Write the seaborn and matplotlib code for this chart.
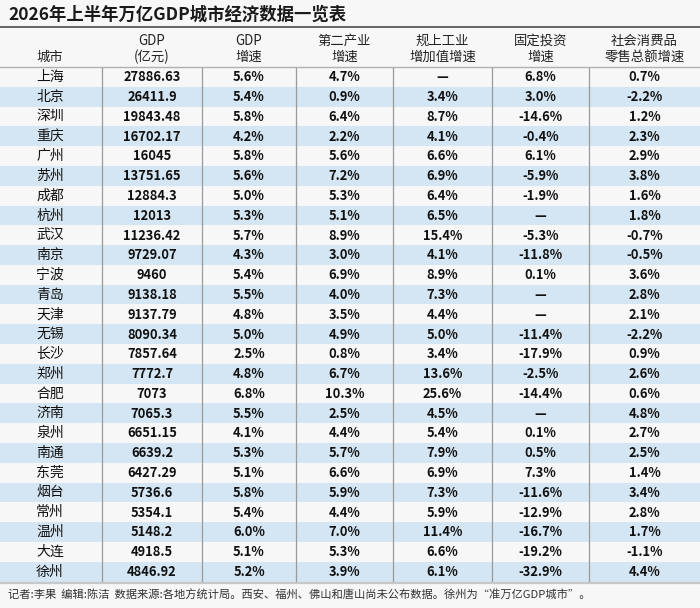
import matplotlib
matplotlib.use("Agg")
import matplotlib.pyplot as plt
from matplotlib.colors import ListedColormap
import numpy as np
import pandas as pd
import seaborn as sns

sns.set_theme(style="white")
plt.rcParams['font.family'] = ['Noto Sans CJK SC', 'DejaVu Sans']

# ---------------- data ----------------
title = "2026年上半年万亿GDP城市经济数据一览表"
footer = "记者:李果  编辑:陈洁  数据来源:各地方统计局。西安、福州、佛山和唐山尚未公布数据。徐州为“准万亿GDP城市”。"
headers = [("", "城市"), ("GDP", "(亿元)"), ("GDP", "增速"), ("第二产业", "增速"),
           ("规上工业", "增加值增速"), ("固定投资", "增速"), ("社会消费品", "零售总额增速")]
cities = ["上海", "北京", "深圳", "重庆", "广州", "苏州", "成都", "杭州", "武汉", "南京",
          "宁波", "青岛", "天津", "无锡", "长沙", "郑州", "合肥", "济南", "泉州", "南通",
          "东莞", "烟台", "常州", "温州", "大连", "徐州"]
gdp = [27886.63, 26411.9, 19843.48, 16702.17, 16045, 13751.65, 12884.3, 12013, 11236.42,
       9729.07, 9460, 9138.18, 9137.79, 8090.34, 7857.64, 7772.7, 7073, 7065.3, 6651.15,
       6639.2, 6427.29, 5736.6, 5354.1, 5148.2, 4918.5, 4846.92]
gdp_growth = [5.6, 5.4, 5.8, 4.2, 5.8, 5.6, 5.0, 5.3, 5.7, 4.3, 5.4, 5.5, 4.8, 5.0, 2.5,
              4.8, 6.8, 5.5, 4.1, 5.3, 5.1, 5.8, 5.4, 6.0, 5.1, 5.2]
secondary = [4.7, 0.9, 6.4, 2.2, 5.6, 7.2, 5.3, 5.1, 8.9, 3.0, 6.9, 4.0, 3.5, 4.9, 0.8,
             6.7, 10.3, 2.5, 4.4, 5.7, 6.6, 5.9, 4.4, 7.0, 5.3, 3.9]
industry = [None, 3.4, 8.7, 4.1, 6.6, 6.9, 6.4, 6.5, 15.4, 4.1, 8.9, 7.3, 4.4, 5.0, 3.4,
            13.6, 25.6, 4.5, 5.4, 7.9, 6.9, 7.3, 5.9, 11.4, 6.6, 6.1]
investment = [6.8, 3.0, -14.6, -0.4, 6.1, -5.9, -1.9, None, -5.3, -11.8, 0.1, None, None,
              -11.4, -17.9, -2.5, -14.4, None, 0.1, 0.5, 7.3, -11.6, -12.9, -16.7, -19.2, -32.9]
retail = [0.7, -2.2, 1.2, 2.3, 2.9, 3.8, 1.6, 1.8, -0.7, -0.5, 3.6, 2.8, 2.1, -2.2, 0.9,
          2.6, 0.6, 4.8, 2.7, 2.5, 1.4, 3.4, 2.8, 1.7, -1.1, 4.4]

# ---------------- layout ----------------
W, H = 700, 608
BG = "#f7f7f7"
BLUE = "#d4e6f3"
col_edges = [0, 102, 202, 296, 393, 492, 589, 700]
col_centers = [50] + [(col_edges[i] + col_edges[i + 1]) / 2 for i in range(1, 7)]
y_top_line = 27
y_head_line = 67
y_rows_end = 581.5
n = len(cities)
row_h = (y_rows_end - y_head_line) / n

fig = plt.figure(figsize=(W / 100, H / 100), dpi=100, facecolor=BG)

def fy(y):
    return 1 - y / H

# stripes via seaborn heatmap
ax = fig.add_axes([0, fy(y_rows_end), 1, (y_rows_end - y_head_line) / H])
stripe = pd.DataFrame({"row": [i % 2 for i in range(n)]}, index=cities)
sns.heatmap(stripe, cmap=ListedColormap([BG, BLUE]), cbar=False, ax=ax,
            xticklabels=False, yticklabels=False, vmin=0, vmax=1)
ax.set_xlim(0, 1)
ax.set_ylim(n, 0)
ax.axis("off")

def fmt_pct(v):
    return "—" if v is None else f"{v:.1f}%"

def fmt_num(v):
    return str(v)

columns = [
    [fmt_num(v) for v in gdp],
    [fmt_pct(v) for v in gdp_growth],
    [fmt_pct(v) for v in secondary],
    [fmt_pct(v) for v in industry],
    [fmt_pct(v) for v in investment],
    [fmt_pct(v) for v in retail],
]

for i, c in enumerate(cities):
    yc = y_head_line + (i + 0.5) * row_h
    fig.text(col_centers[0] / W, fy(yc), c, ha="center", va="center",
             fontsize=10, color="#111111")
    for j, col in enumerate(columns):
        fig.text(col_centers[j + 1] / W, fy(yc + 0.4), col[i], ha="center",
                 va="center", fontsize=9.3, fontweight="bold", color="#111111")

# lines
for x in col_edges[1:-1]:
    fig.add_artist(plt.Line2D([x / W, x / W], [fy(y_head_line), fy(583)],
                              color="#9a9a9a", lw=0.9, transform=fig.transFigure))
fig.add_artist(plt.Line2D([0, 1], [fy(y_top_line)] * 2, color="#666666", lw=1.4,
                          transform=fig.transFigure))
fig.add_artist(plt.Line2D([0, 1], [fy(y_head_line)] * 2, color="#b0b0b0", lw=1.0,
                          transform=fig.transFigure))
fig.add_artist(plt.Line2D([0, 1], [fy(583)] * 2, color="#c8c8c8", lw=1.6,
                          transform=fig.transFigure))

# title
fig.text(8 / W, fy(15), title, ha="left", va="center", fontsize=12.5, fontweight="bold",
         color="#1a1a1a")

# headers
for (l1, l2), x in zip(headers, col_centers):
    if l1:
        fig.text(x / W, fy(41), l1, ha="center", va="center", fontsize=9.6, color="#222222")
    fig.text(x / W, fy(57), l2, ha="center", va="center", fontsize=9.6, color="#222222")

# footer
fig.text(8 / W, fy(595), footer, ha="left", va="center", fontsize=8.1, color="#333333")

fig.savefig("out.png", dpi=100, facecolor=BG)
